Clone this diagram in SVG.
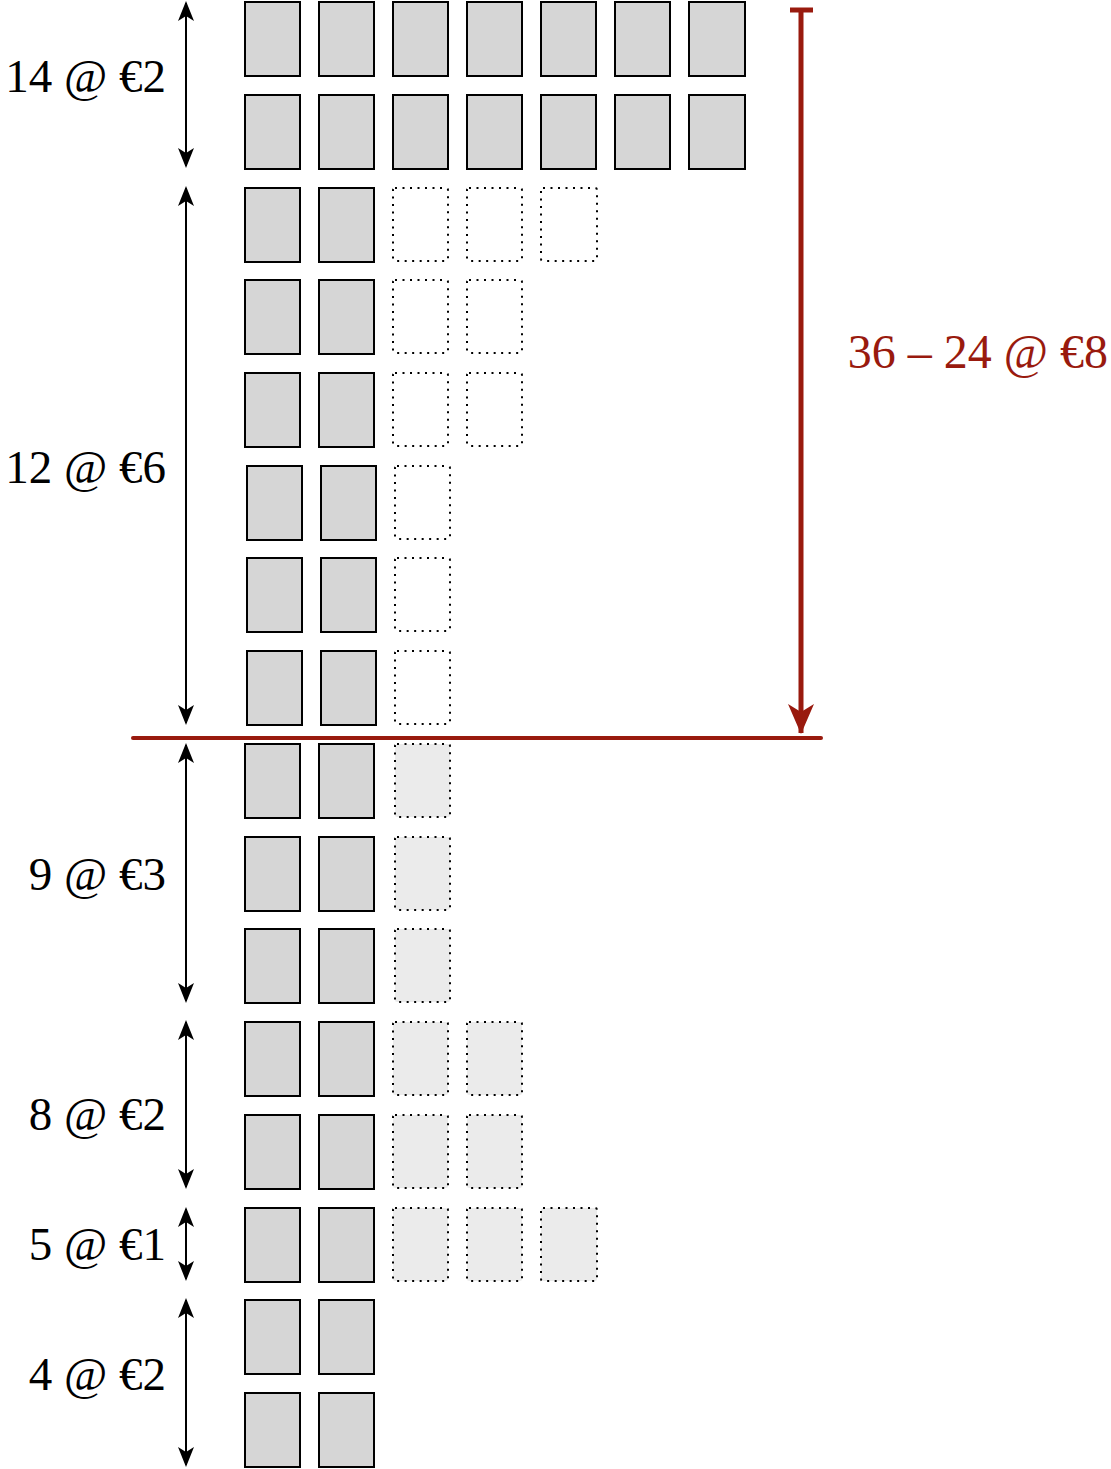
<svg xmlns="http://www.w3.org/2000/svg" width="1111" height="1469" viewBox="0 0 1111 1469">
<style>
.s{fill:#d6d6d6;stroke:#000;stroke-width:2}
.d{fill:#fff;stroke:#000;stroke-width:2;stroke-dasharray:2 5.5}
.g{fill:#ebebeb;stroke:#000;stroke-width:2;stroke-dasharray:2 5.5}
.lbl{font-family:"Liberation Serif","DejaVu Serif",serif;font-size:47px;fill:#000;text-anchor:end}
.a{stroke:#000;stroke-width:2;fill:none}
</style>
<defs>
<marker id="ah" viewBox="0 0 20 16" refX="18" refY="8" markerWidth="20" markerHeight="16" markerUnits="userSpaceOnUse" orient="auto-start-reverse">
<path d="M0,0 L20,8 L0,16 L5,8 Z" fill="#000"/>
</marker>
<marker id="rh" viewBox="0 0 30 26" refX="29" refY="13" markerWidth="30" markerHeight="26" markerUnits="userSpaceOnUse" orient="auto">
<path d="M0,0 L30,13 L0,26 L8,13 Z" fill="#991a0e"/>
</marker>
</defs>
<g id="boxes">
<g id="row1"><rect class="s" x="245" y="2" width="55" height="74"/><rect class="s" x="319" y="2" width="55" height="74"/><rect class="s" x="393" y="2" width="55" height="74"/><rect class="s" x="467" y="2" width="55" height="74"/><rect class="s" x="541" y="2" width="55" height="74"/><rect class="s" x="615" y="2" width="55" height="74"/><rect class="s" x="689" y="2" width="56" height="74"/></g>
<g id="row2"><rect class="s" x="245" y="95" width="55" height="74"/><rect class="s" x="319" y="95" width="55" height="74"/><rect class="s" x="393" y="95" width="55" height="74"/><rect class="s" x="467" y="95" width="55" height="74"/><rect class="s" x="541" y="95" width="55" height="74"/><rect class="s" x="615" y="95" width="55" height="74"/><rect class="s" x="689" y="95" width="56" height="74"/></g>
<g id="row3"><rect class="s" x="245" y="188" width="55" height="74"/><rect class="s" x="319" y="188" width="55" height="74"/><rect class="d" x="393" y="188" width="55" height="73" rx="2"/><rect class="d" x="467" y="188" width="55" height="73" rx="2"/><rect class="d" x="541" y="188" width="56" height="73" rx="2"/></g>
<g id="row4"><rect class="s" x="245" y="280" width="55" height="74"/><rect class="s" x="319" y="280" width="55" height="74"/><rect class="d" x="393" y="280" width="55" height="73" rx="2"/><rect class="d" x="467" y="280" width="55" height="73" rx="2"/></g>
<g id="row5"><rect class="s" x="245" y="373" width="55" height="74"/><rect class="s" x="319" y="373" width="55" height="74"/><rect class="d" x="393" y="373" width="55" height="73" rx="2"/><rect class="d" x="467" y="373" width="55" height="73" rx="2"/></g>
<g id="row6"><rect class="s" x="247" y="466" width="55" height="74"/><rect class="s" x="321" y="466" width="55" height="74"/><rect class="d" x="395" y="466" width="55" height="73" rx="2"/></g>
<g id="row7"><rect class="s" x="247" y="558" width="55" height="74"/><rect class="s" x="321" y="558" width="55" height="74"/><rect class="d" x="395" y="558" width="55" height="73" rx="2"/></g>
<g id="row8"><rect class="s" x="247" y="651" width="55" height="74"/><rect class="s" x="321" y="651" width="55" height="74"/><rect class="d" x="395" y="651" width="55" height="73" rx="2"/></g>
<g id="row9"><rect class="s" x="245" y="744" width="55" height="74"/><rect class="s" x="319" y="744" width="55" height="74"/><rect class="g" x="395" y="744" width="55" height="73" rx="2"/></g>
<g id="row10"><rect class="s" x="245" y="837" width="55" height="74"/><rect class="s" x="319" y="837" width="55" height="74"/><rect class="g" x="395" y="837" width="55" height="73" rx="2"/></g>
<g id="row11"><rect class="s" x="245" y="929" width="55" height="74"/><rect class="s" x="319" y="929" width="55" height="74"/><rect class="g" x="395" y="929" width="55" height="73" rx="2"/></g>
<g id="row12"><rect class="s" x="245" y="1022" width="55" height="74"/><rect class="s" x="319" y="1022" width="55" height="74"/><rect class="g" x="393" y="1022" width="55" height="73" rx="2"/><rect class="g" x="467" y="1022" width="55" height="73" rx="2"/></g>
<g id="row13"><rect class="s" x="245" y="1115" width="55" height="74"/><rect class="s" x="319" y="1115" width="55" height="74"/><rect class="g" x="393" y="1115" width="55" height="73" rx="2"/><rect class="g" x="467" y="1115" width="55" height="73" rx="2"/></g>
<g id="row14"><rect class="s" x="245" y="1208" width="55" height="74"/><rect class="s" x="319" y="1208" width="55" height="74"/><rect class="g" x="393" y="1208" width="55" height="73" rx="2"/><rect class="g" x="467" y="1208" width="55" height="73" rx="2"/><rect class="g" x="541" y="1208" width="56" height="73" rx="2"/></g>
<g id="row15"><rect class="s" x="245" y="1300" width="55" height="74"/><rect class="s" x="319" y="1300" width="55" height="74"/></g>
<g id="row16"><rect class="s" x="245" y="1393" width="55" height="74"/><rect class="s" x="319" y="1393" width="55" height="74"/></g>
</g>
<g id="connectors">
<line class="a" x1="186" y1="3" x2="186" y2="166" marker-start="url(#ah)" marker-end="url(#ah)"/>
<line class="a" x1="186" y1="188" x2="186" y2="723" marker-start="url(#ah)" marker-end="url(#ah)"/>
<line class="a" x1="186" y1="745" x2="186" y2="1001" marker-start="url(#ah)" marker-end="url(#ah)"/>
<line class="a" x1="186" y1="1022" x2="186" y2="1187" marker-start="url(#ah)" marker-end="url(#ah)"/>
<line class="a" x1="186" y1="1209" x2="186" y2="1279" marker-start="url(#ah)" marker-end="url(#ah)"/>
<line class="a" x1="186" y1="1300" x2="186" y2="1465" marker-start="url(#ah)" marker-end="url(#ah)"/>
<line x1="133" y1="738" x2="821" y2="738" stroke="#991a0e" stroke-width="4" stroke-linecap="round"/>
<line x1="790" y1="10" x2="813" y2="10" stroke="#991a0e" stroke-width="5"/>
<line x1="801" y1="10" x2="801" y2="733" stroke="#991a0e" stroke-width="5" marker-end="url(#rh)"/>
</g>
<g id="labels">
<text class="lbl" x="166" y="92">14 @ €2</text>
<text class="lbl" x="166" y="483">12 @ €6</text>
<text class="lbl" x="166" y="890">9 @ €3</text>
<text class="lbl" x="166" y="1130">8 @ €2</text>
<text class="lbl" x="166" y="1260">5 @ €1</text>
<text class="lbl" x="166" y="1390">4 @ €2</text>
<text class="lbl" x="1108" y="368" style="fill:#991a0e;font-size:48px">36 – 24 @ €8</text>
</g>
</svg>
